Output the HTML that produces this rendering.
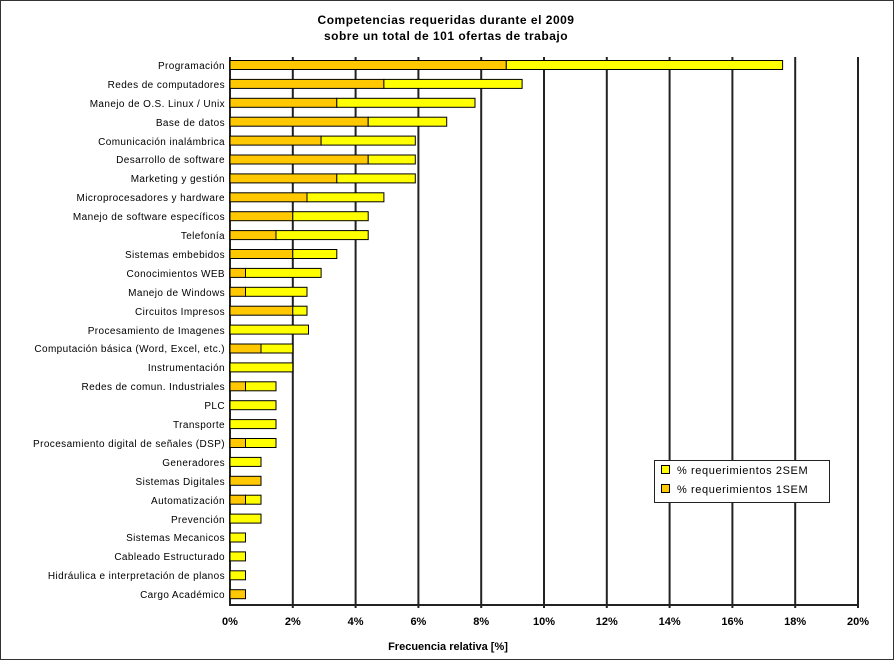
<!DOCTYPE html>
<html><head><meta charset="utf-8"><style>
html,body{margin:0;padding:0;background:#fff}
svg{display:block}
text{font-family:"Liberation Sans",sans-serif}
.l{font-size:10px;text-anchor:end;letter-spacing:0.4px}
.t{font-size:11px;font-weight:bold;text-anchor:middle}
</style></head><body>
<svg width="894" height="660" xmlns="http://www.w3.org/2000/svg">
<rect x="0.5" y="0.5" width="893" height="659" fill="#fff" stroke="#333"/>
<text class="t" x="446" y="24" font-size="12" style="font-size:12px;letter-spacing:0.5px">Competencias requeridas durante el 2009</text>
<text class="t" x="446" y="40" style="font-size:12px;letter-spacing:0.5px">sobre un total de 101 ofertas de trabajo</text>
<g stroke="#222" stroke-width="2">
<line x1="292.8" y1="57" x2="292.8" y2="608"/><line x1="355.6" y1="57" x2="355.6" y2="608"/>
<line x1="418.4" y1="57" x2="418.4" y2="608"/><line x1="481.2" y1="57" x2="481.2" y2="608"/>
<line x1="544" y1="57" x2="544" y2="608"/><line x1="606.8" y1="57" x2="606.8" y2="608"/>
<line x1="669.6" y1="57" x2="669.6" y2="608"/><line x1="732.4" y1="57" x2="732.4" y2="608"/>
<line x1="795.2" y1="57" x2="795.2" y2="608"/><line x1="858" y1="57" x2="858" y2="608"/>
<line x1="230" y1="57" x2="230" y2="605"/><line x1="229" y1="605" x2="859" y2="605"/>
</g>
<g stroke="#000" stroke-width="1">
<!-- rows: c = 65 + i*18.9 -->
<rect x="230" y="60.5" width="276.3" height="9" fill="#ffc800"/><rect x="506.3" y="60.5" width="276.3" height="9" fill="#ffff00"/>
<rect x="230" y="79.4" width="153.9" height="9" fill="#ffc800"/><rect x="383.9" y="79.4" width="138.2" height="9" fill="#ffff00"/>
<rect x="230" y="98.3" width="106.8" height="9" fill="#ffc800"/><rect x="336.8" y="98.3" width="138.2" height="9" fill="#ffff00"/>
<rect x="230" y="117.2" width="138.2" height="9" fill="#ffc800"/><rect x="368.2" y="117.2" width="78.5" height="9" fill="#ffff00"/>
<rect x="230" y="136.1" width="91.1" height="9" fill="#ffc800"/><rect x="321.1" y="136.1" width="94.2" height="9" fill="#ffff00"/>
<rect x="230" y="155" width="138.2" height="9" fill="#ffc800"/><rect x="368.2" y="155" width="47.1" height="9" fill="#ffff00"/>
<rect x="230" y="173.9" width="106.8" height="9" fill="#ffc800"/><rect x="336.8" y="173.9" width="78.5" height="9" fill="#ffff00"/>
<rect x="230" y="192.8" width="77" height="9" fill="#ffc800"/><rect x="307" y="192.8" width="76.9" height="9" fill="#ffff00"/>
<rect x="230" y="211.7" width="62.8" height="9" fill="#ffc800"/><rect x="292.8" y="211.7" width="75.4" height="9" fill="#ffff00"/>
<rect x="230" y="230.6" width="46" height="9" fill="#ffc800"/><rect x="276" y="230.6" width="92.2" height="9" fill="#ffff00"/>
<rect x="230" y="249.5" width="62.8" height="9" fill="#ffc800"/><rect x="292.8" y="249.5" width="44" height="9" fill="#ffff00"/>
<rect x="230" y="268.4" width="15.5" height="9" fill="#ffc800"/><rect x="245.5" y="268.4" width="75.6" height="9" fill="#ffff00"/>
<rect x="230" y="287.3" width="15.5" height="9" fill="#ffc800"/><rect x="245.5" y="287.3" width="61.5" height="9" fill="#ffff00"/>
<rect x="230" y="306.2" width="62.8" height="9" fill="#ffc800"/><rect x="292.8" y="306.2" width="14.2" height="9" fill="#ffff00"/>
<rect x="230" y="325.1" width="78.5" height="9" fill="#ffff00"/>
<rect x="230" y="344" width="31" height="9" fill="#ffc800"/><rect x="261" y="344" width="31.8" height="9" fill="#ffff00"/>
<rect x="230" y="362.9" width="62.8" height="9" fill="#ffff00"/>
<rect x="230" y="381.8" width="15.5" height="9" fill="#ffc800"/><rect x="245.5" y="381.8" width="30.5" height="9" fill="#ffff00"/>
<rect x="230" y="400.7" width="46" height="9" fill="#ffff00"/>
<rect x="230" y="419.6" width="46" height="9" fill="#ffff00"/>
<rect x="230" y="438.5" width="15.5" height="9" fill="#ffc800"/><rect x="245.5" y="438.5" width="30.5" height="9" fill="#ffff00"/>
<rect x="230" y="457.4" width="31" height="9" fill="#ffff00"/>
<rect x="230" y="476.3" width="31" height="9" fill="#ffc800"/>
<rect x="230" y="495.2" width="15.5" height="9" fill="#ffc800"/><rect x="245.5" y="495.2" width="15.5" height="9" fill="#ffff00"/>
<rect x="230" y="514.1" width="31" height="9" fill="#ffff00"/>
<rect x="230" y="533" width="15.5" height="9" fill="#ffff00"/>
<rect x="230" y="551.9" width="15.5" height="9" fill="#ffff00"/>
<rect x="230" y="570.8" width="15.5" height="9" fill="#ffff00"/>
<rect x="230" y="589.7" width="15.5" height="9" fill="#ffc800"/>
</g>
<g class="l">
<text class="l" x="225" y="69">Programación</text>
<text class="l" x="225" y="88">Redes de computadores</text>
<text class="l" x="225" y="107">Manejo de O.S. Linux / Unix</text>
<text class="l" x="225" y="126">Base de datos</text>
<text class="l" x="225" y="145">Comunicación inalámbrica</text>
<text class="l" x="225" y="163">Desarrollo de software</text>
<text class="l" x="225" y="182">Marketing y gestión</text>
<text class="l" x="225" y="201">Microprocesadores y hardware</text>
<text class="l" x="225" y="220">Manejo de software específicos</text>
<text class="l" x="225" y="239">Telefonía</text>
<text class="l" x="225" y="258">Sistemas embebidos</text>
<text class="l" x="225" y="277">Conocimientos WEB</text>
<text class="l" x="225" y="296">Manejo de Windows</text>
<text class="l" x="225" y="315">Circuitos Impresos</text>
<text class="l" x="225" y="334">Procesamiento de Imagenes</text>
<text class="l" x="225" y="352">Computación básica (Word, Excel, etc.)</text>
<text class="l" x="225" y="371">Instrumentación</text>
<text class="l" x="225" y="390">Redes de comun. Industriales</text>
<text class="l" x="225" y="409">PLC</text>
<text class="l" x="225" y="428">Transporte</text>
<text class="l" x="225" y="447">Procesamiento digital de señales (DSP)</text>
<text class="l" x="225" y="466">Generadores</text>
<text class="l" x="225" y="485">Sistemas Digitales</text>
<text class="l" x="225" y="504">Automatización</text>
<text class="l" x="225" y="523">Prevención</text>
<text class="l" x="225" y="541">Sistemas Mecanicos</text>
<text class="l" x="225" y="560">Cableado Estructurado</text>
<text class="l" x="225" y="579">Hidráulica e interpretación de planos</text>
<text class="l" x="225" y="598">Cargo Académico</text>
</g>
<g style="font-size:11px;font-weight:bold;text-anchor:middle">
<text x="230" y="625">0%</text><text x="292.8" y="625">2%</text><text x="355.6" y="625">4%</text>
<text x="418.4" y="625">6%</text><text x="481.2" y="625">8%</text><text x="544" y="625">10%</text>
<text x="606.8" y="625">12%</text><text x="669.6" y="625">14%</text><text x="732.4" y="625">16%</text>
<text x="795.2" y="625">18%</text><text x="858" y="625">20%</text>
<text x="448" y="650">Frecuencia relativa [%]</text>
</g>
<rect x="654.5" y="460.5" width="175" height="42" fill="#fff" stroke="#222"/>
<rect x="661.5" y="465.5" width="8" height="8" fill="#ffff00" stroke="#000"/>
<rect x="661.5" y="484.5" width="8" height="8" fill="#ffc800" stroke="#000"/>
<text x="677" y="474" style="font-size:11px;letter-spacing:0.6px">% requerimientos 2SEM</text>
<text x="677" y="493" style="font-size:11px;letter-spacing:0.6px">% requerimientos 1SEM</text>
</svg>
</body></html>
